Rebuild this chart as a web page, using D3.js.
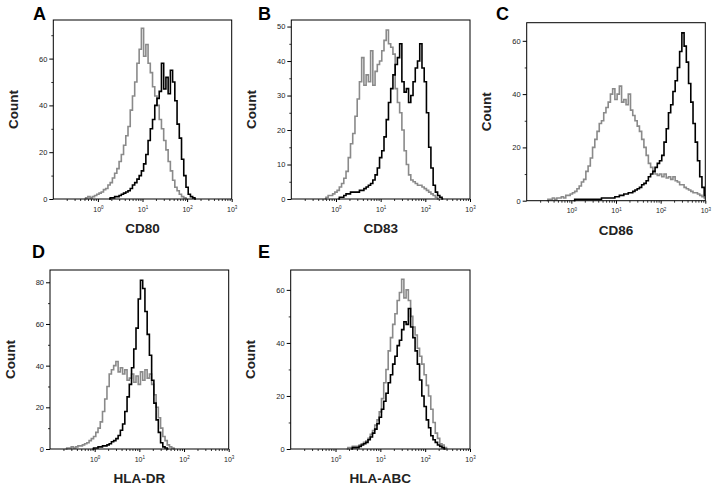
<!DOCTYPE html>
<html><head><meta charset="utf-8">
<script src="https://cdn.jsdelivr.net/npm/d3@7"></script>
<style>body{margin:0;background:#fff} svg{display:block}</style>
</head><body>
<svg id="c" width="716" height="488"></svg>
<script>
// ---- DATA ----
// channel positions: log10 exponent of each histogram channel (-1 .. 3, step 0.05)
const channelExp = d3.range(81).map(i => -1 + i * 0.05);

const panelLetters = ["A", "B", "C", "D", "E"];
const markers = ["CD80", "CD83", "CD86", "HLA-DR", "HLA-ABC"];
const yMaxes = [76.5, 51.9, 66.8, 85.9, 67.5];
const yTickValues = [[0,20,40,60],[0,10,20,30,40,50],[0,20,40,60],[0,20,40,60,80],[0,20,40,60]];
const xTickExps = [0, 1, 2, 3];

// gray = immature / control, black = mature
const cd80Gray = [0,0,0,0,0,0,0,0,0,0, 0,0,0,0,0,0.5,1,0.5,1,1.5, 2,2.5,3,4,4.5,6,7,9,11,13, 16,19,23,27,31,38,44,50,58,64, 73,61,66,58,54,48,44,40,34,30, 25,21,16,12,8,5,3.5,2,1,0.5, 0,0,0,0,0,0,0,0,0,0, 0,0,0,0,0,0,0,0,0,0, 0];
const cd80Black = [0,0,0,0,0,0,0,0,0,0, 0,0,0,0,0,0,0,0,0,0, 0,0,0,0,0,0,0.5,0.5,1,1, 1.5,2,2.5,3,3.5,4.5,6,7,8.5,10, 12,15,19,25,30,34,40,43,46,58, 47,52,45,55,50,42,32,26,17,10, 5,2,1,0.5,0,0,0,0,0,0, 0,0,0,0,0,0,0,0,0,0, 0];
const cd83Gray = [0,0,0,0,0,0,0,0,0,0, 0,0,0,0,0,0,0.5,1,1,1.5, 2,2.5,3.5,4.5,6,8,12,16,19,24, 29,34,41,33,36,34,43,33,37,39, 40,43,46,49,45,44,42,32,28,25, 20,14,10,7,5.5,5,4.5,4,4,3.5, 3,2.5,2,1.5,1,0.5,0,0,0,0, 0,0,0,0,0,0,0,0,0,0, 0];
const cd83Black = [0,0,0,0,0,0,0,0,0,0, 0,0,0,0,0,0,0,0,0,0, 0,0,0.5,0.5,1,1.5,1.5,2,2,2, 2,2.5,2.5,3,3.5,4,4.5,5.5,7,9, 12,14,18,23,28,32,36,39,41,45, 34,31,32,28,30,34,38,40,45,38, 34,25,15,9,4,2,1,0.5,0,0, 0,0,0,0,0,0,0,0,0,0, 0];
const cd86Gray = [0,0,0,0,0,0,0,0,0,0, 0.5,0.5,1,0.5,1,1,1.5,1,2,2, 2.5,3,3.5,4.5,5.5,7,8,11,13,16, 20,23,26,29,30,33,35,37,40,42, 38,40,43,37,38,36,40,34,32,30, 28,26,23,20,17,14,12.5,11,10,9.5, 10,9,10,8.5,9,8,9,7.5,7,6, 6,5,4.5,4,3.5,3,3,2.5,2,1.5, 1];
const cd86Black = [0,0,0,0,0,0,0,0,0,0, 0,0,0,0,0,0,0,0,0,0, 0,0,0.5,0.5,0.5,0.5,0.5,0.5,0.5,0.5, 0.5,0.5,0.5,0.5,1,1,1,1,1,1, 1.5,1.5,2,2,2.5,2.5,3,3,3.5,4, 4.5,5,6,6.5,7.5,9,10,11,12.5,14, 15,17,22,27,33,36,41,45,50,56, 63,58,52,44,37,29,22,15,9,5, 2];
const hladrGray = [0,0,0,0,0,0,0,0,0.5,0.5, 1,0.5,1,1.5,1.5,2,2.5,3,4,5, 6,8,10,13,18,24,30,36,38,40, 42,37,39,36,38,33,34,36,32,35, 31,37,33,38,34,36,31,26,20,15, 10,6,4,2,1,0.5,0,0,0,0, 0,0,0,0,0,0,0,0,0,0, 0,0,0,0,0,0,0,0,0,0, 0];
const hladrBlack = [0,0,0,0,0,0,0,0,0,0, 0,0,0,0,0,0,0,0,0,0, 0.5,0.5,1,1,1.5,1.5,2,2.5,3.5,4, 5,6.5,9,12,18,25,31,39,48,58, 72,81,77,66,55,45,33,22,14,8, 3,1,0.5,0,0,0,0,0,0,0, 0,0,0,0,0,0,0,0,0,0, 0,0,0,0,0,0,0,0,0,0, 0];
const hlaabcGray = [0,0,0,0,0,0,0,0,0,0, 0,0,0,0,0,0,0,0,0,0, 0,0,0,0,0,0,0.5,0.5,1,1, 1,1.5,2,2.5,3,4,5.5,7,9,11, 14,19,25,30,37,42,47,51,56,59, 64,57,60,56,50,46,43,38,35,32, 28,24,20,15,10,6,4,2,1.5,0.5, 0,0,0,0,0,0,0,0,0,0, 0];
const hlaabcBlack = [0,0,0,0,0,0,0,0,0,0, 0,0,0,0,0,0,0,0,0,0, 0,0,0,0,0,0,0,0,0.5,0.5, 0.5,1,1.5,2,2.5,3.5,4.5,6,7.5,9.5, 12,15,18,21,25,28,32,35,39,41, 45,48,47,53,46,42,37,32,26,20, 16,11,8,5,3.5,2.5,1.5,1,0.5,0, 0,0,0,0,0,0,0,0,0,0, 0];

const graySeries = [cd80Gray, cd83Gray, cd86Gray, hladrGray, hlaabcGray];
const blackSeries = [cd80Black, cd83Black, cd86Black, hladrBlack, hlaabcBlack];

// ---- LAYOUT ----
const layout = [
  {l:53.3, t:20,   r:231.7, b:199,   lx:33,  ly:20},
  {l:291.3,t:20,   r:470,   b:199,   lx:258, ly:20},
  {l:526.7,t:22.7, r:705.3, b:200.7, lx:496, ly:20},
  {l:50,   t:270,  r:228.7, b:449,   lx:32,  ly:258},
  {l:290.7,t:270,  r:470,   b:449,   lx:258, ly:258}
];
const FONT = "'Liberation Sans', Arial, Helvetica, sans-serif";
const svg = d3.select("#c");

layout.forEach((p, k) => {
  const g = svg.append("g");
  const x = d3.scaleLog().domain([0.1, 1000]).range([p.l, p.r]);
  const y = d3.scaleLinear().domain([0, yMaxes[k]]).range([p.b, p.t]);

  // minor x ticks
  const minor = [];
  for (let d = -1; d < 3; d++) for (let m = 2; m <= 9; m++) minor.push(m * Math.pow(10, d));
  g.append("g").attr("transform", `translate(0,${p.b})`)
    .call(d3.axisBottom(x).tickValues(minor).tickSize(2).tickFormat(""))
    .call(a => { a.select(".domain").remove(); a.selectAll("line").attr("stroke", "#000").attr("stroke-width", 0.8); });
  // major x ticks
  const xa = g.append("g").attr("transform", `translate(0,${p.b})`)
    .call(d3.axisBottom(x).tickValues(xTickExps.map(e => Math.pow(10, e))).tickSize(3).tickPadding(4).tickFormat(""))
    .call(a => { a.select(".domain").remove(); a.selectAll("line").attr("stroke", "#000"); });
  xa.selectAll(".tick").each(function(d) {
    const t = d3.select(this).append("text").attr("fill", "#222").attr("y", 12.5)
      .attr("font-family", FONT).attr("font-size", 7).attr("text-anchor", "middle");
    t.append("tspan").text("10");
    t.append("tspan").attr("dy", -2.5).attr("font-size", 4.5).text(Math.round(Math.log10(d)));
  });

  // y axis
  const ticks = yTickValues[k];
  const yMinor = [];
  for (let i = 0; i < ticks.length; i++) {
    const step = ticks[1] - ticks[0];
    const v = ticks[i] + step / 2;
    if (v < yMaxes[k]) yMinor.push(v);
  }
  g.append("g").attr("transform", `translate(${p.l},0)`)
    .call(d3.axisLeft(y).tickValues(yMinor).tickSize(2).tickFormat(""))
    .call(a => { a.select(".domain").remove(); a.selectAll("line").attr("stroke", "#000").attr("stroke-width", 0.8); });
  g.append("g").attr("transform", `translate(${p.l},0)`)
    .call(d3.axisLeft(y).tickValues(ticks).tickSize(4).tickPadding(2))
    .call(a => {
      a.select(".domain").remove();
      a.selectAll("line").attr("stroke", "#000");
      a.selectAll("text").attr("font-family", FONT).attr("font-size", 7.5).attr("fill", "#222");
    });

  // traces
  function draw(series, color) {
    let first = series.findIndex(v => v > 0);
    let last = series.length - 1 - [...series].reverse().findIndex(v => v > 0);
    first = Math.max(0, first - 1); last = Math.min(series.length - 1, last + 1);
    const idx = d3.range(first, last + 1);
    const ln = d3.line()
      .x(i => x(Math.pow(10, channelExp[i])))
      .y(i => y(series[i]))
      .curve(d3.curveStep);
    g.append("path").attr("d", ln(idx)).attr("fill", "none")
      .attr("stroke", color).attr("stroke-width", 1.6).attr("stroke-linejoin", "miter");
  }
  draw(graySeries[k], "#8a8a8a");
  draw(blackSeries[k], "#000");

  // frame
  g.append("rect").attr("x", p.l).attr("y", p.t).attr("width", p.r - p.l).attr("height", p.b - p.t)
    .attr("fill", "none").attr("stroke", "#000").attr("stroke-width", 1);

  // labels
  g.append("text").attr("x", (p.l + p.r) / 2).attr("y", p.b + 34).attr("text-anchor", "middle")
    .attr("font-family", FONT).attr("font-size", 13.5).attr("font-weight", "bold").attr("fill", "#222")
    .text(markers[k]);
  g.append("text").attr("transform", `translate(${p.l - 40},${(p.t + p.b) / 2}) rotate(-90)`)
    .attr("text-anchor", "middle").attr("dy", "0.35em")
    .attr("font-family", FONT).attr("font-size", 13.5).attr("font-weight", "bold").attr("fill", "#222")
    .text("Count");
  g.append("text").attr("x", p.lx).attr("y", p.ly)
    .attr("font-family", FONT).attr("font-size", 18).attr("font-weight", "bold").attr("fill", "#000")
    .text(panelLetters[k]);
});
</script>
</body></html>
